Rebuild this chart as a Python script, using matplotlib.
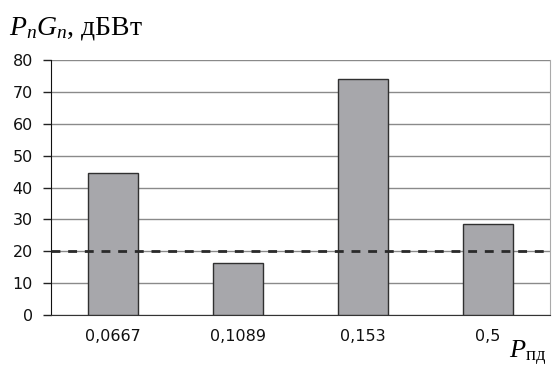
import matplotlib.pyplot as plt
import numpy as np

# Power of the signal at the receiver for each P_пд value
p_pd_labels = ['0,0667', '0,1089', '0,153', '0,5']
pg_values = [44.5, 16.3, 74.0, 28.6]
threshold = 20
y_ticks = [0, 10, 20, 30, 40, 50, 60, 70, 80]

plt.rcParams['mathtext.fontset'] = 'custom'
plt.rcParams['mathtext.rm'] = 'Liberation Serif'
plt.rcParams['mathtext.it'] = 'Liberation Serif:italic'

fig = plt.figure(figsize=(5.52, 3.70), dpi=100)
ax = fig.add_axes([51 / 552, 1 - 315 / 370, 499 / 552, 255 / 370])

x = np.arange(len(pg_values))
ax.bar(x, pg_values, width=0.4, color='#a7a7ab', edgecolor='#303030',
       linewidth=1.0, zorder=3)
ax.axhline(threshold, color='#2a2a2a', linestyle=(0, (3.2, 2.8)),
           linewidth=2.0, zorder=4)

ax.set_xlim(-0.5, len(pg_values) - 0.5)
ax.set_ylim(0, 80)
ax.set_yticks(y_ticks)
ax.set_xticks(x)
ax.set_xticklabels(p_pd_labels)
ax.yaxis.grid(True, color='#8a8a8a', linewidth=1.0, zorder=0)

for lab in ax.get_xticklabels() + ax.get_yticklabels():
    lab.set_family('DejaVu Sans')
    lab.set_fontsize(11.5)
    lab.set_color('#111111')

ax.tick_params(axis='y', length=6, width=1.0, color='#222222', pad=7)
ax.tick_params(axis='x', length=0, pad=10)

ax.spines['left'].set_color('#111111')
ax.spines['bottom'].set_color('#333333')
ax.spines['top'].set_visible(False)
ax.spines['right'].set_color('#aaaaaa')

fig.text(9 / 552, 1 - 35 / 370, r'$P_{n}G_{n}$, дБВт', family='Liberation Serif',
         fontsize=20, ha='left', va='baseline')
fig.text(546 / 552, 1 - 358 / 370, r'$P_{\mathrm{пд}}$', family='Liberation Serif',
         fontsize=19, ha='right', va='baseline')

fig.savefig('out.png', dpi=100)
